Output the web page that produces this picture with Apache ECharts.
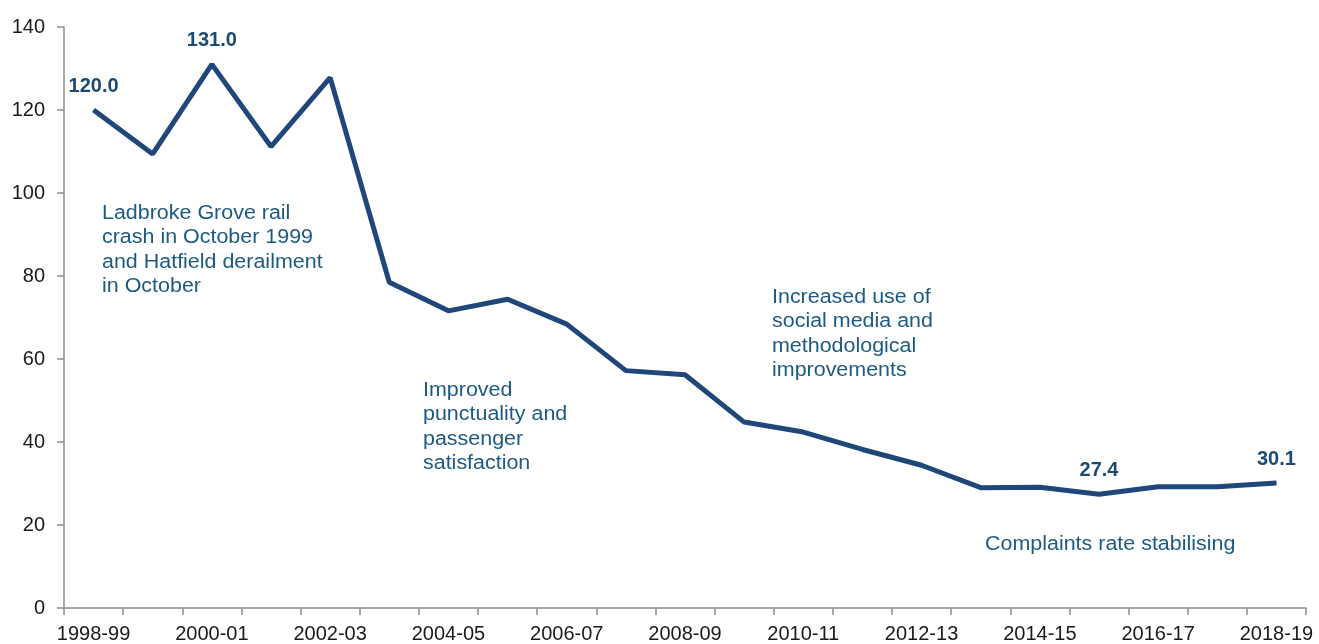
<!DOCTYPE html>
<html>
<head>
<meta charset="utf-8">
<script src="https://cdn.jsdelivr.net/npm/echarts@6/dist/echarts.min.js"></script>
<style>
html, body { margin: 0; padding: 0; background: #fff; }
#chart { width: 1319px; height: 644px; }
</style>
</head>
<body>
<div id="chart"></div>
<script>
// financial years
var years = ["1998-99", "1999-00", "2000-01", "2001-02", "2002-03", "2003-04", "2004-05",
    "2005-06", "2006-07", "2007-08", "2008-09", "2009-10", "2010-11", "2011-12",
    "2012-13", "2013-14", "2014-15", "2015-16", "2016-17", "2017-18", "2018-19"];

// complaints rate
var complaints = [120.0, 109.4, 131.0, 111.2, 127.8, 78.5, 71.6, 74.4, 68.4, 57.2, 56.2,
    44.8, 42.4, 38.2, 34.4, 29.0, 29.1, 27.4, 29.2, 29.2, 30.1];

// years whose value gets a label
var labelled = ["1998-99", "2000-01", "2015-16", "2018-19"];

var yTicks = [0, 20, 40, 60, 80, 100, 120, 140];

var notes = [
    { text: "Ladbroke Grove rail\ncrash in October 1999\nand Hatfield derailment\nin October", x: 102, y: 201 },
    { text: "Improved\npunctuality and\npassenger\nsatisfaction", x: 423, y: 378 },
    { text: "Increased use of\nsocial media and\nmethodological\nimprovements", x: 772, y: 285 },
    { text: "Complaints rate stabilising", x: 985, y: 532 }
];

var lineColor = "#1f477a";
var noteColor = "#1d5a83";
var font = "Arial, 'Liberation Sans', sans-serif";

var chart = echarts.init(document.getElementById("chart"));

var seriesData = complaints.map(function (v, i) {
    var item = { value: v };
    if (labelled.indexOf(years[i]) >= 0) {
        item.label = {
            show: true,
            position: "top",
            distance: 13,
            formatter: function (p) { return p.value.toFixed(1); },
            fontFamily: font,
            fontWeight: "bold",
            fontSize: 20,
            color: "#1b4a72"
        };
    }
    return item;
});

var option = {
    backgroundColor: "#fff",
    animation: false,
    grid: { left: 64, right: 13, top: 27, bottom: 34 },
    xAxis: {
        type: "category",
        data: years,
        boundaryGap: true,
        axisLine: { lineStyle: { color: "#8c8c8c", width: 1.5 } },
        axisTick: { show: true, interval: 0, length: 7, lineStyle: { color: "#8c8c8c", width: 1.5 } },
        axisLabel: {
            interval: 1,
            color: "#1a1a1a",
            fontFamily: font,
            fontSize: 20,
            margin: 16,
            showMaxLabel: true
        }
    },
    yAxis: {
        type: "value",
        min: yTicks[0],
        max: yTicks[yTicks.length - 1],
        interval: 20,
        splitLine: { show: false },
        axisLine: { show: true, lineStyle: { color: "#8c8c8c", width: 1.5 } },
        axisTick: { show: true, length: 7, lineStyle: { color: "#8c8c8c", width: 1.5 } },
        axisLabel: {
            color: "#1a1a1a",
            fontFamily: font,
            fontSize: 20,
            margin: 19
        }
    },
    series: [{
        type: "line",
        data: seriesData,
        symbol: "circle",
        symbolSize: 1,
        showSymbol: true,
        lineStyle: { color: lineColor, width: 5 },
        itemStyle: { color: lineColor },
        label: { show: false }
    }],
    graphic: notes.map(function (n) {
        return {
            type: "text",
            left: n.x,
            top: n.y,
            scaleX: 1.1,
            style: {
                text: n.text,
                fill: noteColor,
                font: "19.5px " + font,
                lineHeight: 24.5
            }
        };
    })
};

chart.setOption(option);
</script>
</body>
</html>
